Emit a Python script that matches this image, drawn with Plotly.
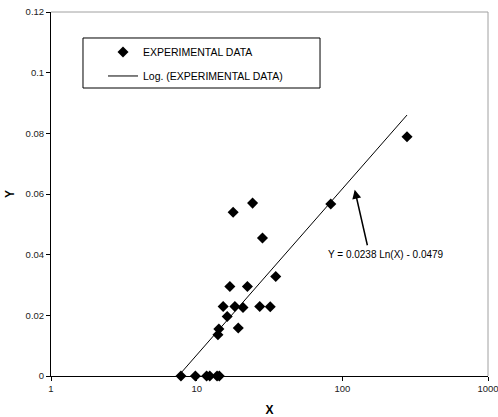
import numpy as np
import plotly.graph_objects as go

x_data = [7.8, 9.8, 11.7, 12.3, 13.8, 14.3,
          14.0, 14.2, 15.2, 16.2, 16.9, 17.8, 18.3, 19.3, 20.8,
          22.3, 24.2, 27.1, 28.3, 32.0, 34.9, 83.3, 278.0]
y_data = [0.0, 0.0, 0.0, 0.0, 0.0, 0.0,
          0.0136, 0.0155, 0.0229, 0.0196, 0.0295, 0.0540, 0.0229, 0.0158, 0.0226,
          0.0295, 0.0570, 0.0229, 0.0455, 0.0228, 0.0328, 0.0567, 0.0789]

# Logarithmic trend line coefficients (from the chart's equation)
coef_a = 0.0238
coef_b = -0.0479
eq_label = "Y = 0.0238 Ln(X) - 0.0479"

x_ticks = [1, 10, 100, 1000]
y_ticks = [0, 0.02, 0.04, 0.06, 0.08, 0.1, 0.12]

xt = np.logspace(np.log10(min(x_data)), np.log10(max(x_data)), 200)
yt = coef_a * np.log(xt) + coef_b

font = "Liberation Sans, Arial, sans-serif"

fig = go.Figure()
fig.add_trace(go.Scatter(
    x=x_data, y=y_data, mode="markers", name="EXPERIMENTAL DATA",
    marker=dict(symbol="diamond", size=8.5, color="black"),
    cliponaxis=False, legendgroup="a"))
fig.add_trace(go.Scatter(
    x=xt, y=yt, mode="lines", name="Log. (EXPERIMENTAL DATA)",
    line=dict(color="black", width=1), legendgroup="b"))

fig.update_layout(
    width=498, height=417,
    margin=dict(l=51, r=10, t=12, b=41),
    paper_bgcolor="white", plot_bgcolor="white",
    font=dict(family=font, color="#222", size=9.5),
    showlegend=True,
    legend=dict(x=0.119, y=0.93, xanchor="left", yanchor="top",
                bgcolor="rgba(0,0,0,0)", borderwidth=0,
                font=dict(size=10.5, color="black"),
                tracegroupgap=5, traceorder="grouped"),
    xaxis=dict(type="log", range=[0, 3], tickvals=x_ticks,
               ticktext=[str(v) for v in x_ticks],
               showline=True, linecolor="black", linewidth=1,
               ticks="outside", ticklen=4, tickcolor="black",
               showgrid=False, zeroline=False, layer="below traces",
               automargin=False, ticklabeloverflow="allow",
               title=dict(text="<b>X</b>", font=dict(size=12, color="black"), standoff=12)),
    yaxis=dict(range=[0, 0.12], tickvals=y_ticks,
               ticktext=["0", "0.02", "0.04", "0.06", "0.08", "0.1", "0.12"],
               showline=True, linecolor="black", linewidth=1,
               ticks="outside", ticklen=4, tickcolor="black",
               showgrid=False, zeroline=False, layer="below traces",
               automargin=False, ticklabeloverflow="allow",
               title=dict(text="<b>Y</b>", font=dict(size=12, color="black"), standoff=8)),
    shapes=[
        dict(type="line", xref="paper", yref="paper", x0=0, x1=1, y0=1, y1=1,
             line=dict(color="#a0a0a0", width=1)),
        dict(type="line", xref="paper", yref="paper", x0=1, x1=1, y0=0, y1=1,
             line=dict(color="#a0a0a0", width=1)),
        dict(type="rect", xref="paper", yref="paper", x0=0.0732, x1=0.6156,
             y0=0.7912, y1=0.9286, line=dict(color="black", width=1)),
    ],
    annotations=[
        dict(x=np.log10(199), y=0.040, xref="x", yref="y", text=eq_label,
             showarrow=False, font=dict(size=10, color="black")),
        dict(x=np.log10(121.6), y=0.0614, xref="x", yref="y", text="",
             showarrow=True, ax=13, ay=57, arrowhead=2, arrowsize=1.2,
             arrowwidth=1.5, arrowcolor="black"),
    ],
)

fig.write_html("out.html", config={"displayModeBar": False},
               post_script="document.body.style.margin='0';document.body.style.overflow='hidden';")
